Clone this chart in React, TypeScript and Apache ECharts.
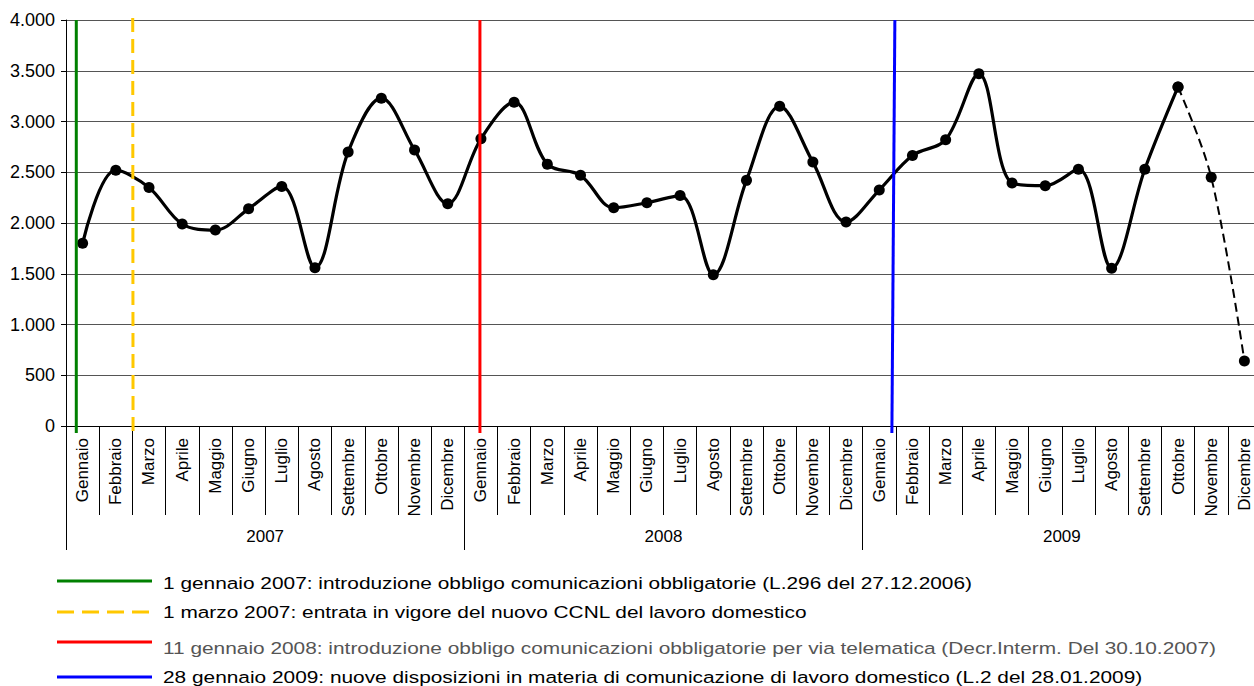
import React, { useEffect, useRef } from "react";
import * as echarts from "echarts";

const months = [
  "Gennaio", "Febbraio", "Marzo", "Aprile", "Maggio", "Giugno",
  "Luglio", "Agosto", "Settembre", "Ottobre", "Novembre", "Dicembre",
];
const years = ["2007", "2008", "2009"];
const categories = [...months, ...months, ...months];

const values2007 = [1800, 2520, 2350, 1990, 1930, 2140, 2360, 1560, 2700, 3230, 2720, 2190];
const values2008 = [2830, 3190, 2580, 2470, 2150, 2200, 2270, 1490, 2420, 3150, 2600, 2010];
const values2009 = [2325, 2665, 2820, 3470, 2395, 2368, 2530, 1555, 2530, 3340, 2450, 640];
const allValues = [...values2007, ...values2008, ...values2009];
const provisionalFrom = 33; // Ottobre 2009 onwards dashed

const yTicks = [0, 500, 1000, 1500, 2000, 2500, 3000, 3500, 4000];

const events = [
  { label: "1 gennaio 2007: introduzione obbligo comunicazioni obbligatorie (L.296 del 27.12.2006)", color: "#008000", dashed: false, xTop: 0.31, xBottom: 0.31, textColor: "#000" },
  { label: "1 marzo 2007: entrata in vigore del nuovo CCNL del lavoro domestico", color: "#FFC800", dashed: true, xTop: 2.01, xBottom: 2.02, textColor: "#000" },
  { label: "11 gennaio 2008: introduzione obbligo comunicazioni obbligatorie per via telematica (Decr.Interm. Del 30.10.2007)", color: "#FF0000", dashed: false, xTop: 12.47, xBottom: 12.47, textColor: "#555" },
  { label: "28 gennaio 2009: nuove disposizioni in materia di comunicazione di lavoro domestico (L.2 del 28.01.2009)", color: "#0000FF", dashed: false, xTop: 24.97, xBottom: 24.88, textColor: "#000" },
];

const FONT = "'Liberation Sans', Arial, sans-serif";

function fmt(v: number): string {
  return String(v).replace(/\B(?=(\d{3})+(?!\d))/g, ".");
}

export default function App() {
  const ref = useRef<HTMLDivElement>(null);

  useEffect(() => {
    if (!ref.current) return;
    const chart = echarts.init(ref.current, undefined, { renderer: "svg" });

    const solidData = allValues.map((v, i) => (i <= provisionalFrom ? v : "-"));
    const dashedData = allValues.map((v, i) => (i >= provisionalFrom ? v : "-"));

    const eventSeries = events.map((e) => ({
      type: "line",
      xAxisIndex: 2,
      yAxisIndex: 0,
      data: [
        [e.xTop, e.dashed ? 4020 : 4000],
        [e.xBottom, -70],
      ],
      symbol: "none",
      clip: false,
      z: 5,
      silent: true,
      lineStyle: {
        color: e.color,
        width: 3,
        type: e.dashed ? [14, 7] : "solid",
      },
    }));

    const legendGraphics: any[] = [];
    const rowY = [581, 612, 642, 677];
    const textY = [583, 612, 648, 677];
    events.forEach((e, i) => {
      legendGraphics.push({
        type: "line",
        shape: { x1: 57, y1: rowY[i], x2: 152, y2: rowY[i] },
        style: {
          stroke: e.color,
          lineWidth: 3,
          lineDash: e.dashed ? [17, 8] : null,
        },
      });
      legendGraphics.push({
        type: "text",
        x: 163,
        y: textY[i],
        scaleX: 1.227,
        style: {
          text: e.label,
          fill: e.textColor,
          font: `17px ${FONT}`,
          textVerticalAlign: "middle",
        },
      });
    });

    chart.setOption({
      animation: false,
      textStyle: { fontFamily: FONT },
      grid: { left: 66, top: 20, width: 1195, height: 406, containLabel: false },
      xAxis: [
        {
          type: "category",
          data: categories,
          boundaryGap: true,
          axisLine: { lineStyle: { color: "#000", width: 1 } },
          axisTick: { show: true, interval: 0, length: 89, lineStyle: { color: "#000" } },
          axisLabel: {
            interval: 0,
            rotate: 90,
            margin: 12,
            fontSize: 17,
            lineHeight: 12,
            color: "#000",
            fontFamily: FONT,
          },
        },
        {
          type: "category",
          data: years,
          position: "bottom",
          boundaryGap: true,
          axisLine: { show: false },
          axisTick: { show: true, interval: 0, length: 124, lineStyle: { color: "#000" } },
          axisLabel: { margin: 102, fontSize: 17, color: "#000", fontFamily: FONT },
        },
        {
          type: "value",
          min: 0,
          max: 36,
          show: false,
        },
      ],
      yAxis: {
        type: "value",
        min: yTicks[0],
        max: yTicks[yTicks.length - 1],
        interval: 500,
        axisLine: { show: true, lineStyle: { color: "#000" } },
        axisTick: { show: true, length: 5, lineStyle: { color: "#000" } },
        axisLabel: {
          formatter: (v: number) => fmt(v),
          fontSize: 18,
          color: "#000",
          margin: 11,
          fontFamily: FONT,
        },
        splitLine: { show: true, lineStyle: { color: "#555", width: 1 } },
      },
      series: [
        {
          type: "line",
          xAxisIndex: 0,
          data: solidData,
          smooth: 0.35,
          symbol: "circle",
          symbolSize: 11,
          itemStyle: { color: "#000" },
          lineStyle: { color: "#000", width: 3.2 },
          z: 3,
        },
        {
          type: "line",
          xAxisIndex: 0,
          data: dashedData,
          smooth: 0.35,
          symbol: "circle",
          symbolSize: 11,
          itemStyle: { color: "#000" },
          lineStyle: { color: "#000", width: 2, type: [9, 5] },
          z: 3,
        },
        ...eventSeries,
      ],
      graphic: legendGraphics,
    });

    return () => chart.dispose();
  }, []);

  return (
    <div
      style={{ position: "absolute", left: 0, top: 0, width: 1254, height: 686, overflow: "hidden", background: "#fff" }}
    >
      <div ref={ref} style={{ width: 1280, height: 686 }} />
    </div>
  );
}
